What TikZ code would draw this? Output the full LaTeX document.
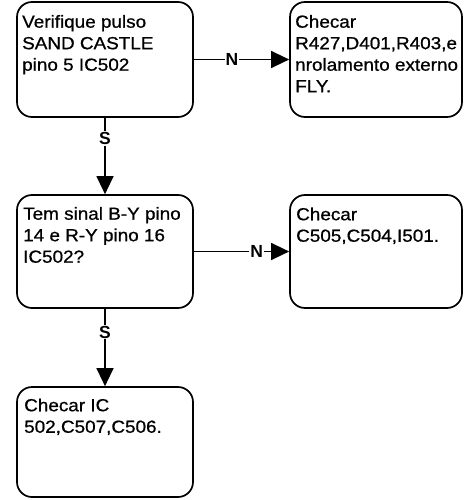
\documentclass[tikz,border=0pt]{standalone}
\usepackage{fontspec}
\setmainfont{Liberation Sans}
\newfontfamily\boxfont[FakeStretch=1.08,FakeBold=0.8]{Liberation Sans}
\usetikzlibrary{arrows.meta}
\tikzset{
  box/.style={draw, line width=1.7pt, rounded corners=15pt, inner sep=0pt},
  txt/.style={anchor=north west, inner sep=0pt, align=left, font=\boxfont\fontsize{17.5}{21.5}\selectfont},
  conn/.style={line width=1.3pt, -{Triangle[length=18pt,width=17pt]}},
  lbl/.style={fill=white, inner sep=1pt, font=\bfseries\fontsize{17.5}{17.5}\selectfont},
}
\begin{document}
\begin{tikzpicture}[x=1pt,y=-1pt]
\useasboundingbox (0,0) rectangle (464,500);
% boxes
\node[box, minimum width=176pt, minimum height=115pt] (b1) at (105,59.5) {};
\node[box, minimum width=172pt, minimum height=115pt] (b2) at (376,59.5) {};
\node[box, minimum width=176pt, minimum height=113pt] (b3) at (105,251.5) {};
\node[box, minimum width=172pt, minimum height=113pt] (b4) at (376,251.5) {};
\node[box, minimum width=176pt, minimum height=110pt] (b5) at (105,442) {};
% texts
\node[txt] (t1) at (22,12.45) {\strut Verifique pulso\\SAND CASTLE\\pino 5 IC502};
\node[txt] (t2) at (295,12.45) {\strut Checar\\R427,D401,R403,e\\nrolamento externo\\FLY.};
\node[txt] (t3) at (23,204.45) {\strut Tem sinal B-Y pino\\14 e R-Y pino 16\\IC502?};
\node[txt] (t4) at (296,205) {\strut Checar\\C505,C504,I501.};
\node[txt] (t5) at (24,396) {\strut Checar IC\\502,C507,C506.};
% connectors
\draw[conn] (b1) -- node[lbl,pos=0.40] (n1) {N} (b2);
\draw[conn] (b3) -- node[lbl,pos=0.66] (n2) {N} (b4);
\draw[conn] (b1) -- node[lbl,pos=0.27] (s1) {S} (b3);
\draw[conn] (b3) -- node[lbl,pos=0.30] (s2) {S} (b5);
\end{tikzpicture}
\end{document}
